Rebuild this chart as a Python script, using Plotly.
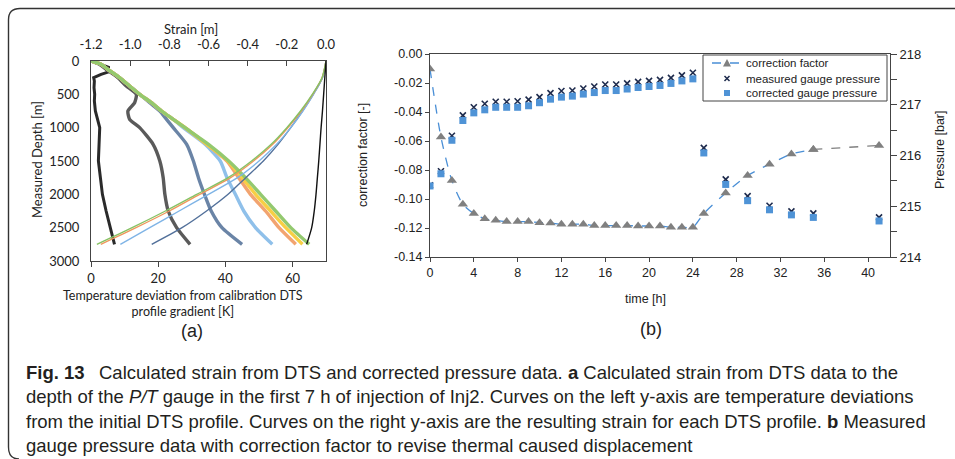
import plotly.graph_objects as go

W, H = 955, 459
def fx(x): return x / W
def fy(y): return 1 - y / H

# ---------------- Panel (a) data ----------------
depth_s = [0, 250, 500, 750, 1000, 1250, 1500, 1750, 2000, 2250, 2500, 2750]
strain_green = [0, -0.02, -0.07, -0.13, -0.20, -0.28, -0.38, -0.50, -0.66, -0.82, -0.99, -1.17]
strain_orange = [0, -0.02, -0.068, -0.126, -0.195, -0.272, -0.37, -0.487, -0.645, -0.80, -0.97, -1.15]
strain_lightblue = [0, -0.018, -0.064, -0.118, -0.18, -0.252, -0.342, -0.452, -0.60, -0.75, -0.90, -1.05]
strain_slate = [0, -0.018, -0.065, -0.12, -0.18, -0.245, -0.32, -0.41, -0.50, -0.61, -0.735, -0.89]
strain_black = [0, -0.006, -0.012, -0.018, -0.025, -0.031, -0.037, -0.044, -0.051, -0.060, -0.073, -0.099]

depth_t = [0, 50, 125, 250, 375, 500, 625, 750, 875, 1000, 1250, 1500, 1750, 2000, 2250, 2500, 2750]
temp_darkgray = [0, 2.5, 4.5, 8, 10.5, 13.5, 13, 11, 11.5, 14.5, 18.5, 20.5, 21.5, 22, 23, 25.5, 29.5]
temp_slate = [0, 3, 5, 8.5, 11.5, 14.5, 17.5, 20.5, 22.5, 24.5, 28.5, 30.5, 32, 33.8, 35.8, 39, 45]
temp_lightblue = [0, 3, 5, 8.5, 11.5, 14.5, 18, 21, 24.5, 27.5, 34, 38.5, 40.5, 43, 45.5, 49, 54]
temp_orange = [0, 3, 5, 8.5, 11.5, 14.5, 18, 21, 24.5, 28, 34.5, 40.5, 44, 47.5, 52, 56, 61]
temp_yellow = [0, 3, 5, 8.5, 11.5, 14.5, 18, 21, 24.5, 28, 34.5, 40.8, 45, 49, 53.5, 58, 63]
temp_green = [0, 3, 5, 8.5, 11.5, 14.5, 18, 21, 24.5, 28, 35, 41, 46, 50.5, 55, 59.5, 65]

depth_black = [0, 40, 80, 100, 120, 140, 160, 200, 250, 300, 400, 500, 600, 750, 900, 1000,
               1250, 1500, 1750, 2000, 2250, 2500, 2650, 2750]
temp_black = [0, 2.5, 4.5, 5.5, 4.5, 5.0, 5.5, 3.0, 0.8, 1.0, 0.9, 1.1, 1.0, 1.3, 2.0, 2.6,
              2.4, 2.2, 2.8, 3.4, 4.5, 5.7, 6.3, 7.0]

temp_ticks = [0, 20, 40, 60]
strain_ticks = [-1.2, -1.0, -0.8, -0.6, -0.4, -0.2, 0.0]
strain_ticklabels = ["-1.2", "-1.0", "-0.8", "-0.6", "-0.4", "-0.2", "0.0"]
depth_ticks = [0, 500, 1000, 1500, 2000, 2500, 3000]

# ---------------- Panel (b) data ----------------
time_h = [0, 1, 2, 3, 4, 5, 6, 7, 8, 9, 10, 11, 12, 13, 14, 15, 16, 17, 18, 19, 20, 21, 22, 23, 24,
          25, 27, 29, 31, 33, 35, 41]
correction_factor = [-0.0104, -0.0573, -0.0873, -0.1036, -0.110, -0.1137, -0.1147, -0.1156, -0.1156,
                     -0.1156, -0.1163, -0.1165, -0.1174, -0.1174, -0.1174, -0.1183, -0.1183, -0.1183,
                     -0.1183, -0.1186, -0.1186, -0.1186, -0.1195, -0.1195, -0.1195,
                     -0.110, -0.0958, -0.0838, -0.076, -0.069, -0.0658, -0.0631]
measured_p = [215.41, 215.69, 216.39, 216.79, 216.95, 217.02, 217.06, 217.06, 217.07, 217.10, 217.15,
              217.23, 217.27, 217.28, 217.32, 217.36, 217.40, 217.40, 217.42, 217.45, 217.47, 217.49,
              217.53, 217.58, 217.63, 216.15, 215.53, 215.20, 215.01, 214.90, 214.86, 214.78]
corrected_p = [215.40, 215.64, 216.30, 216.69, 216.84, 216.90, 216.95, 216.95, 216.95, 216.98, 217.04,
               217.11, 217.15, 217.17, 217.21, 217.24, 217.28, 217.28, 217.31, 217.34, 217.36, 217.38,
               217.42, 217.47, 217.51, 216.05, 215.43, 215.11, 214.93, 214.83, 214.78, 214.71]

time_ticks = [0, 4, 8, 12, 16, 20, 24, 28, 32, 36, 40]
cf_ticks = [0, -0.02, -0.04, -0.06, -0.08, -0.10, -0.12, -0.14]
cf_ticklabels = ["0.00", "-0.02", "-0.04", "-0.06", "-0.08", "-0.10", "-0.12", "-0.14"]
p_ticks = [214, 215, 216, 217, 218]
p_minor = [214.5, 215.5, 216.5, 217.5]
legend_labels = ["correction factor", "measured gauge pressure", "corrected gauge pressure"]

FA = "Lato, Open Sans, sans-serif"
FB = "Liberation Sans, Arial, sans-serif"

C_CF_LINE = "#4a8fd6"
C_TRI = "#808080"
C_X = "#1e2b4d"
C_SQ = "#4f93d6"

fig = go.Figure()

# temperature deviation curves (bottom axis)
temps = [(temp_darkgray, "#5a5a5a"), (temp_slate, "#6a84a6"), (temp_lightblue, "#8fc0ea"),
         (temp_orange, "#f2a470"), (temp_yellow, "#f7cf45"), (temp_green, "#93c96f")]
fig.add_trace(go.Scatter(x=temp_black, y=depth_black, mode="lines", xaxis="x", yaxis="y",
                         line=dict(color="#2a2a2a", width=3)))
for vals, col in temps:
    fig.add_trace(go.Scatter(x=vals, y=depth_t, mode="lines", xaxis="x", yaxis="y",
                             line=dict(color=col, width=3.4, shape="spline", smoothing=0.6)))

# strain curves (top axis)
strains = [(strain_slate, "#52709a"), (strain_lightblue, "#7fb4e6"), (strain_orange, "#f0975c"),
           (strain_green, "#86c264"), (strain_black, "#111111")]
for vals, col in strains:
    fig.add_trace(go.Scatter(x=vals, y=depth_s, mode="lines", xaxis="x2", yaxis="y",
                             line=dict(color=col, width=1.4, shape="spline", smoothing=0.8)))

# panel (b)
n_main = time_h.index(35) + 1
fig.add_trace(go.Scatter(x=time_h[:n_main], y=correction_factor[:n_main], mode="lines+markers",
                         xaxis="x3", yaxis="y3", name=legend_labels[0],
                         line=dict(color=C_CF_LINE, width=1.3, dash="dash", shape="spline", smoothing=0.7),
                         marker=dict(symbol="triangle-up", size=9, color=C_TRI)))
fig.add_trace(go.Scatter(x=time_h[n_main - 1:], y=correction_factor[n_main - 1:], mode="lines+markers",
                         xaxis="x3", yaxis="y3",
                         line=dict(color=C_TRI, width=1.3, dash="dash"),
                         marker=dict(symbol="triangle-up", size=9, color=C_TRI)))
fig.add_trace(go.Scatter(x=time_h, y=measured_p, mode="markers", xaxis="x3", yaxis="y4",
                         name=legend_labels[1],
                         marker=dict(symbol="x-thin", size=6, line=dict(width=1.6, color=C_X))))
fig.add_trace(go.Scatter(x=time_h, y=corrected_p, mode="markers", xaxis="x3", yaxis="y4",
                         name=legend_labels[2],
                         marker=dict(symbol="square", size=7, color=C_SQ)))

axcol = "#444444"
tf_a = dict(family=FA, size=13, color="#222")
tf_b = dict(family=FB, size=12.5, color="#222")
fig.update_layout(
    width=W, height=H, margin=dict(l=0, r=0, t=0, b=0, pad=0), autosize=False,
    paper_bgcolor="white", plot_bgcolor="white", showlegend=False,
    xaxis=dict(domain=[fx(91), fx(326)], range=[0, 70], anchor="y", tickvals=temp_ticks,
               ticks="outside", ticklen=5, tickcolor=axcol, showline=True, linecolor=axcol,
               showgrid=False, zeroline=False, tickfont=tf_a, automargin=False),
    xaxis2=dict(overlaying="x", side="top", range=[-1.2, 0], anchor="y", tickvals=strain_ticks,
                ticktext=strain_ticklabels, ticks="inside", ticklen=5, tickcolor=axcol,
                ticklabelstandoff=6,
                showline=True, linecolor=axcol, showgrid=False, zeroline=False,
                tickfont=tf_a, automargin=False),
    yaxis=dict(domain=[fy(261), fy(61)], range=[3000, 0], anchor="x", tickvals=depth_ticks,
               ticks="", ticklabelstandoff=8, showline=True, linecolor=axcol, mirror=True,
               showgrid=False, zeroline=False, tickfont=tf_a, automargin=False),
    xaxis3=dict(domain=[fx(430), fx(890)], range=[0, 42], anchor="y3", tickvals=time_ticks,
                ticks="outside", ticklen=4, tickcolor=axcol, showline=True, linecolor=axcol,
                mirror=True, showgrid=False, zeroline=False, tickfont=tf_b, automargin=False),
    yaxis3=dict(domain=[fy(257), fy(54)], range=[-0.14, 0], anchor="x3", tickvals=cf_ticks,
                ticktext=cf_ticklabels, ticks="outside", ticklen=4, tickcolor=axcol,
                showline=True, linecolor=axcol, showgrid=False, zeroline=False,
                tickfont=tf_b, automargin=False),
    yaxis4=dict(overlaying="y3", side="right", anchor="x3", range=[214, 218], tickvals=p_ticks,
                ticks="outside", ticklen=6, tickcolor=axcol, showline=True, linecolor=axcol,
                showgrid=False, zeroline=False,
                minor=dict(tickvals=p_minor, ticks="outside", ticklen=6, tickcolor=axcol),
                tickfont=dict(family=FB, size=13, color="#222"), automargin=False),
)

ann = []
def T(x, y, text, size, family, angle=0, xanchor="center", color="#222"):
    ann.append(dict(x=fx(x), y=fy(y), xref="paper", yref="paper", text=text, showarrow=False,
                    xanchor=xanchor, yanchor="middle", textangle=angle, borderpad=0,
                    font=dict(family=family, size=size, color=color)))

T(191, 29, "Strain [m]", 13, FA)
T(37, 160, "Measured Depth [m]", 13, FA, angle=-90)
T(183, 303, "Temperature deviation from calibration DTS<br>profile gradient [K]", 12.5, FA)
T(192, 331, "(a)", 18, FB)
T(363, 155, "correction factor [-]", 12.5, FB, angle=-90)
T(940, 150, "Pressure [bar]", 12.5, FB, angle=-90)
T(645, 299, "time [h]", 12.5, FB)
T(651, 329, "(b)", 18, FB)

# manual legend (compact, like the reference)
shapes = []
shapes.append(dict(type="rect", xref="paper", yref="paper", x0=fx(703), x1=fx(887), y0=fy(101),
                   y1=fy(55), line=dict(color="#444", width=1), fillcolor="white", layer="above"))
rows_y = [63, 78.5, 93]
shapes.append(dict(type="line", xref="paper", yref="paper", x0=fx(712), x1=fx(742), y0=fy(rows_y[0]),
                   y1=fy(rows_y[0]), line=dict(color=C_CF_LINE, width=1.3, dash="dash")))
def P(x, y): return f"{fx(x):.5f},{fy(y):.5f}"
cy = rows_y[0]
shapes.append(dict(type="path", xref="paper", yref="paper",
                   path=f"M {P(723, cy + 3.5)} L {P(731, cy + 3.5)} L {P(727, cy - 4)} Z",
                   fillcolor=C_TRI, line=dict(width=0)))
cy = rows_y[1]
shapes.append(dict(type="path", xref="paper", yref="paper",
                   path=f"M {P(724.5, cy - 2.5)} L {P(729.5, cy + 2.5)} M {P(724.5, cy + 2.5)} L {P(729.5, cy - 2.5)}",
                   line=dict(color=C_X, width=1.5)))
cy = rows_y[2]
shapes.append(dict(type="rect", xref="paper", yref="paper", x0=fx(724), x1=fx(730), y0=fy(cy + 3),
                   y1=fy(cy - 3), fillcolor=C_SQ, line=dict(width=0)))
for lab, yy in zip(legend_labels, rows_y):
    T(745, yy, lab, 11.5, FB, xanchor="left")

cap_lines = [
    "<b>Fig. 13</b>\u2002 Calculated strain from DTS and corrected pressure data. <b>a</b> Calculated strain from DTS data to the",
    "depth of the <i>P/T</i> gauge in the first 7 h of injection of Inj2. Curves on the left y-axis are temperature deviations",
    "from the initial DTS profile. Curves on the right y-axis are the resulting strain for each DTS profile. <b>b</b> Measured",
    "gauge pressure data with correction factor to revise thermal caused displacement",
]
for i, line in enumerate(cap_lines):
    T(25, 372 + 24.6 * i, line, 18.5, FB, xanchor="left", color="#231f20")

# rounded outer frame
path = ("M " + P(8.5, 447) + " Q " + P(8.5, 459) + " " + P(19, 459) +
        " M " + P(8.5, 447) + " L " + P(8.5, 20) + " Q " + P(8.5, 8.5) + " " + P(20, 8.5) +
        " L " + P(960, 8.5))
shapes.append(dict(type="path", path=path, xref="paper", yref="paper",
                   line=dict(color="#333", width=1.4)))
fig.update_layout(annotations=ann, shapes=shapes)

fig.write_html("out.html")
